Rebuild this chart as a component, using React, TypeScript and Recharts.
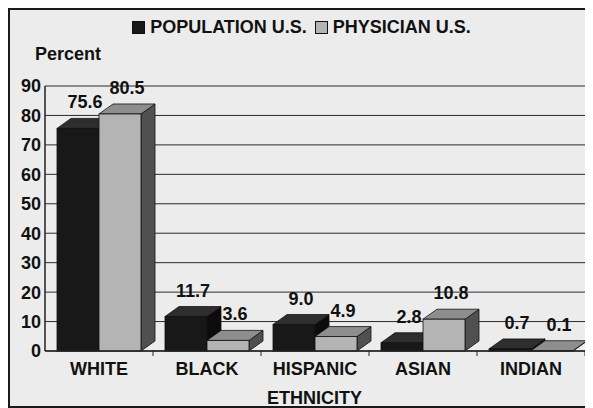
import { BarChart, Bar, XAxis, YAxis, CartesianGrid, Legend, LabelList } from "recharts"

// data
const categories = ["WHITE", "BLACK", "HISPANIC", "ASIAN", "INDIAN"]
const population = [75.6, 11.7, 9.0, 2.8, 0.7]
const physician = [80.5, 3.6, 4.9, 10.8, 0.1]
const yTicks = [0, 10, 20, 30, 40, 50, 60, 70, 80, 90]

const data = categories.map((name, i) => ({
  name,
  population: population[i],
  physician: physician[i],
}))

const FONT = "'Liberation Sans', Arial, sans-serif"
const DX = 14
const DY = 10
const BAND = 108

const SERIES = {
  population: { front: "#181818", top: "#2e2e2e", side: "#0c0c0c", label: "POPULATION U.S." },
  physician: { front: "#b4b4b4", top: "#8e8e8e", side: "#505050", label: "PHYSICIAN U.S." },
}

function Box3D(props: any) {
  const { x, y, width, height, colors } = props
  if (width == null || height == null) return null
  const b = y + height
  return (
    <g stroke="#111" strokeWidth={0.8}>
      <polygon
        points={`${x + width},${y} ${x + width + DX},${y - DY} ${x + width + DX},${b - DY} ${x + width},${b}`}
        fill={colors.side}
      />
      <polygon
        points={`${x},${y} ${x + DX},${y - DY} ${x + width + DX},${y - DY} ${x + width},${y}`}
        fill={colors.top}
      />
      <rect x={x} y={y} width={width} height={Math.max(height, 0)} fill={colors.front} />
    </g>
  )
}

function ValueLabel(props: any) {
  const { x, y, width, value } = props
  return (
    <text
      x={x + width / 2 + DX / 2}
      y={y - 20}
      textAnchor="middle"
      fontFamily={FONT}
      fontWeight="bold"
      fontSize={18}
      fill="#111"
    >
      {Number(value).toFixed(1)}
    </text>
  )
}

function CatTick(props: any) {
  const { x, y, payload } = props
  return (
    <g>
      <line x1={x + BAND / 2} y1={y} x2={x + BAND / 2} y2={y + 5} stroke="#222" strokeWidth={1} />
      <text x={x} y={y + 24} textAnchor="middle" fontFamily={FONT} fontWeight="bold" fontSize={18} fill="#111">
        {payload.value}
      </text>
    </g>
  )
}

function LegendBox() {
  return (
    <div
      style={{
        display: "flex",
        justifyContent: "center",
        alignItems: "center",
        fontFamily: FONT,
        fontWeight: "bold",
        fontSize: 18,
        color: "#111",
      }}
    >
      {(["population", "physician"] as const).map((k, i) => (
        <span key={k} style={{ display: "flex", alignItems: "center", marginLeft: i ? 8 : 0 }}>
          <span
            style={{
              display: "inline-block",
              width: 11,
              height: 11,
              background: SERIES[k].front,
              border: "1px solid #111",
              marginRight: 5,
            }}
          />
          {SERIES[k].label}
        </span>
      ))}
    </div>
  )
}

export default function App() {
  return (
    <div
      style={{
        position: "relative",
        width: 583,
        height: 396,
        borderTop: "2px solid #1a1a1a",
        borderLeft: "2px solid #1a1a1a",
        borderBottom: "2px solid #1a1a1a",
        background: "#ececec",
        overflow: "hidden",
      }}
    >
      <div
        style={{
          position: "absolute",
          left: 25,
          top: 34,
          fontFamily: FONT,
          fontWeight: "bold",
          fontSize: 18,
          color: "#111",
        }}
      >
        Percent
      </div>
      <div
        style={{
          position: "absolute",
          left: 0,
          width: 583,
          top: 379,
          textAlign: "center",
          paddingLeft: 26,
          boxSizing: "border-box",
          fontFamily: FONT,
          fontWeight: "bold",
          fontSize: 18,
          lineHeight: "18px",
          color: "#111",
        }}
      >
        ETHNICITY
      </div>
      <BarChart
        width={583}
        height={396}
        data={data}
        margin={{ top: 76, right: 8, left: 0, bottom: 0 }}
        barCategoryGap={12}
        barGap={0}
      >
        <CartesianGrid vertical={false} stroke="#2a2a2a" strokeWidth={1} />
        <Legend
          verticalAlign="middle"
          align="center"
          wrapperStyle={{ top: 7, left: 0, width: 583 }}
          content={() => <LegendBox />}
        />
        <XAxis
          dataKey="name"
          height={55}
          axisLine={{ stroke: "#222", strokeWidth: 1.5 }}
          tickLine={false}
          tickSize={0}
          tickMargin={0}
          interval={0}
          tick={<CatTick />}
        />
        <YAxis
          width={35}
          domain={[0, 90]}
          ticks={yTicks}
          interval={0}
          axisLine={{ stroke: "#222", strokeWidth: 1.5 }}
          tickLine={false}
          tickSize={0}
          tickMargin={4}
          tick={{ fontFamily: FONT, fontWeight: "bold", fontSize: 18, fill: "#111" }}
        />
        <Bar
          dataKey="population"
          isAnimationActive={false}
          shape={(p: any) => <Box3D {...p} colors={SERIES.population} />}
        >
          <LabelList dataKey="population" content={<ValueLabel />} />
        </Bar>
        <Bar
          dataKey="physician"
          isAnimationActive={false}
          shape={(p: any) => <Box3D {...p} colors={SERIES.physician} />}
        >
          <LabelList dataKey="physician" content={<ValueLabel />} />
        </Bar>
      </BarChart>
    </div>
  )
}
